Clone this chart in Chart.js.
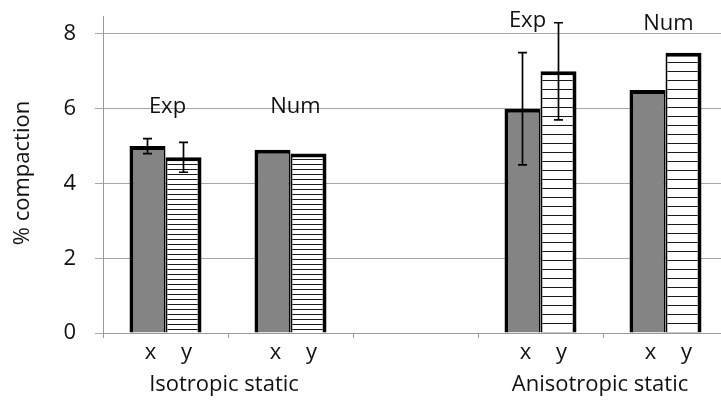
<!DOCTYPE html>
<html>
<head>
<meta charset="utf-8">
<script src="https://cdn.jsdelivr.net/npm/chart.js@4/dist/chart.umd.min.js"></script>
<style>
  html, body { margin: 0; padding: 0; background: #fff; overflow: hidden; width: 721px; height: 400px; }
  #wrap { width: 721px; height: 400px; overflow: hidden; }
  canvas { display: block; }
</style>
</head>
<body>
<div id="wrap"><canvas id="chart" width="730" height="400" style="width:730px;height:400px"></canvas></div>
<script>
// categories (middle one is the empty gap between the two cases)
const categories = ['Iso Exp', 'Iso Num', '', 'Aniso Exp', 'Aniso Num'];
const xValues = [5.0, 4.9, null, 6.0, 6.5];
const yValues = [4.7, 4.8, null, 7.0, 7.5];
const xErrors = [0.2, 0, null, 1.5, 0];
const yErrors = [0.4, 0, null, 1.3, 0];
const barTags = ['Exp', 'Num', '', 'Exp', 'Num'];
const tagLevels = [6.04, 6.04, null, 8.35, 8.27];
const groupNames = ['Isotropic static', 'Anisotropic static'];
const yTicks = [0, 2, 4, 6, 8];

const FONT = '"Open Sans", sans-serif';

// horizontal line hatch
function hatch(step) {
  const c = document.createElement('canvas');
  c.width = 4; c.height = step;
  const g = c.getContext('2d');
  g.fillStyle = '#fff';
  g.fillRect(0, 0, 4, step);
  g.fillStyle = '#1a1a1a';
  g.fillRect(0, step - 1, 4, 1);
  return g.createPattern(c, 'repeat');
}
const fineHatch = hatch(5);
const wideHatch = hatch(9);

// draws error bars, the Exp/Num tags and the x/y + group labels
const extrasPlugin = {
  id: 'extras',
  afterDatasetsDraw(chart) {
    const ctx = chart.ctx;
    const xs = chart.scales.x, ys = chart.scales.y;
    const errs = [xErrors, yErrors];
    const vals = [xValues, yValues];

    ctx.save();
    ctx.strokeStyle = '#000';
    ctx.lineWidth = 1.7;
    [0, 1].forEach(d => {
      const meta = chart.getDatasetMeta(d);
      meta.data.forEach((bar, i) => {
        const e = errs[d][i];
        if (!e) return;
        const top = ys.getPixelForValue(vals[d][i] + e);
        const bot = ys.getPixelForValue(vals[d][i] - e);
        ctx.beginPath();
        ctx.moveTo(bar.x, top); ctx.lineTo(bar.x, bot);
        ctx.moveTo(bar.x - 4.5, top); ctx.lineTo(bar.x + 4.5, top);
        ctx.moveTo(bar.x - 4.5, bot); ctx.lineTo(bar.x + 4.5, bot);
        ctx.stroke();
      });
    });

    ctx.fillStyle = '#111';
    ctx.font = '22px ' + FONT;
    ctx.textAlign = 'center';
    ctx.textBaseline = 'middle';
    const tagShift = [2, 5, 0, -13, 3];
    barTags.forEach((t, i) => {
      if (!t) return;
      ctx.fillText(t, xs.getPixelForValue(i) + tagShift[i], ys.getPixelForValue(tagLevels[i]));
    });

    // x / y under each bar
    ['x', 'y'].forEach((lab, d) => {
      chart.getDatasetMeta(d).data.forEach((bar, i) => {
        if (vals[d][i] == null) return;
        ctx.fillText(lab, bar.x + 3, xs.bottom - 47);
      });
    });

    // case names centred between the Exp and Num categories
    ctx.fillText(groupNames[0], (xs.getPixelForValue(0) + xs.getPixelForValue(1)) / 2 - 4, xs.bottom - 15);
    ctx.fillText(groupNames[1], (xs.getPixelForValue(3) + xs.getPixelForValue(4)) / 2 - 3, xs.bottom - 15);

    // y axis title
    ctx.translate(23, 173);
    ctx.rotate(-Math.PI / 2);
    ctx.fillText('% compaction', 0, 0);
    ctx.restore();
  }
};

new Chart(document.getElementById('chart'), {
  type: 'bar',
  data: {
    labels: categories,
    datasets: [
      {
        label: 'x',
        data: xValues,
        backgroundColor: '#848484',
        borderColor: '#000',
        borderWidth: { left: 4, top: 4, right: 2, bottom: 0 },
        borderSkipped: 'start',
        categoryPercentage: 0.576,
        barPercentage: 1.0
      },
      {
        label: 'y',
        data: yValues,
        backgroundColor: (c) => (c.dataIndex < 2 ? fineHatch : wideHatch),
        borderColor: '#000',
        borderWidth: { left: 2, top: 4, right: 4, bottom: 0 },
        borderSkipped: 'start',
        categoryPercentage: 0.576,
        barPercentage: 1.0
      }
    ]
  },
  options: {
    responsive: false,
    animation: false,
    devicePixelRatio: 1,
    layout: { padding: { top: 16, right: 2, left: 0, bottom: 0 } },
    plugins: {
      legend: { display: false },
      tooltip: { enabled: false }
    },
    scales: {
      x: {
        offset: true,
        grid: { display: true, offset: true, drawOnChartArea: false, drawTicks: true, tickLength: 5, color: '#9a9a9a' },
        border: { color: '#9a9a9a', width: 1 },
        ticks: { display: false },
        afterFit: (s) => { s.height = 67; }
      },
      y: {
        min: 0,
        max: 8.48,
        afterBuildTicks: (s) => { s.ticks = yTicks.map(v => ({ value: v })); },
        grid: { color: '#a6a6a6', tickLength: 8, lineWidth: 1 },
        border: { color: '#9a9a9a', width: 1 },
        ticks: { color: '#111', font: { family: FONT, size: 22 }, padding: 19 },
        afterFit: (s) => { s.width = 103; s.paddingTop = 0; s.paddingBottom = 0; }
      }
    }
  },
  plugins: [extrasPlugin]
});
</script>
</body>
</html>
